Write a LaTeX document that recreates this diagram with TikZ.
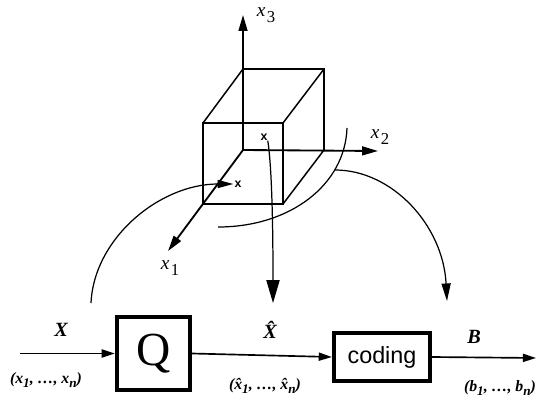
\documentclass[tikz,border=0pt]{standalone}
\usepackage{fontspec}
\setmainfont{Liberation Serif}
\setsansfont{Liberation Sans}
\usetikzlibrary{arrows.meta}
\newcommand{\subsc}[1]{\raisebox{-0.32em}{\fontsize{9.5}{10}\selectfont\upshape\kern0.08em #1}}
\newcommand{\smsub}[1]{\raisebox{-0.28em}{\fontsize{7.5}{8}\selectfont #1}}
\tikzset{
  ln/.style={line width=0.85pt,black},
  axis/.style={line width=1.05pt,black,-{Triangle[length=9pt,width=5pt]}},
  curve/.style={line width=0.7pt,black},
  flow/.style={line width=0.95pt,black,-{Triangle[length=7.5pt,width=4.6pt]}},
  block/.style={draw,line width=2.4pt,inner sep=0pt},
  lab/.style={inner sep=0pt,font=\fontsize{9}{10}\selectfont\itshape\bfseries},
  sym/.style={inner sep=0pt,font=\fontsize{11.5}{12}\selectfont\itshape\bfseries},
  axl/.style={inner sep=0pt,font=\fontsize{11}{12}\selectfont\itshape},
  mk/.style={inner sep=0pt,font=\sffamily\bfseries\fontsize{7}{7}\selectfont}
}
\begin{document}
\begin{tikzpicture}[x=0.02cm,y=-0.02cm]
\useasboundingbox (0,0) rectangle (536,398);
% axes
\coordinate (o) at (243,150);
\coordinate (a3) at (243,15);
\coordinate (a2) at (378,151);
\coordinate (a1) at (168,251);
\draw[axis] (o) -- (a3);
\draw[axis] (o) -- (a2);
\draw[axis] (o) -- (a1);
% cube
\coordinate (btl) at (243,69);
\coordinate (btr) at (324,69);
\coordinate (bbr) at (324,150);
\coordinate (ftl) at (203,123);
\coordinate (ftr) at (283,123);
\coordinate (fbr) at (283,204);
\coordinate (fbl) at (203,204);
\draw[ln] (btl) -- (btr) -- (bbr);
\draw[ln] (ftl) -- (ftr) -- (fbr) -- (fbl) -- cycle;
\draw[ln] (ftl) -- (btl);
\draw[ln] (ftr) -- (btr);
\draw[ln] (fbr) -- (bbr);
% axis labels
\node[axl] (l3) at (266,15) {x\subsc{3}};
\node[axl] (l2) at (380,137) {x\subsc{2}};
\node[axl] (l1) at (170,268) {x\subsc{1}};
% marks
\node[mk] (p1) at (238,184) {x};
\node[mk] (p2) at (264,137) {x};
% blocks
\node[block,minimum width=1.46cm,minimum height=1.46cm,font=\fontsize{27}{27}\selectfont] (Q) at (153.5,353.5) {\raisebox{0.14em}{Q}};
\node[block,minimum width=1.92cm,minimum height=0.96cm,font=\sffamily\fontsize{13.3}{15}\selectfont] (C) at (382,357) {\raisebox{0.14em}{coding}};
\coordinate (in) at (20,353.5);
\coordinate (out) at (536,358);
\draw[flow] (in) -- (Q.west);
\draw[flow] (Q.east) -- (C.west);
\draw[flow] (C.east) -- (out);
% curves
\coordinate (c1s) at (91,303);
\draw[curve,shorten >=0.5pt,-{Triangle[length=9pt,width=4.6pt]}] (c1s) .. controls (94,238) and (160,184) .. (p1.west);
\coordinate (c2e) at (273,303);
\draw[curve,-{Triangle[length=13pt,width=7.5pt]}] (p2.south east) .. controls (270,155) and (273,190) .. (c2e);
\coordinate (c3s) at (347,128);
\coordinate (c3e) at (218,227);
\draw[curve] (c3s) .. controls (345,185) and (290,227) .. (c3e);
\coordinate (c4s) at (335,170);
\coordinate (c4e) at (447,301);
\draw[curve,-{Triangle[length=10pt,width=5.2pt]}] (c4s) .. controls (392,170) and (443,225) .. (c4e);
% texts
\node[sym] (tX) at (61,330) {X};
\node[sym] (tH) at (270,330) {\^X};
\node[sym] (tB) at (474,337) {B};
\node[lab] (tx) at (46,380) {(x\smsub{1}, …, x\smsub{n})};
\node[lab] (th) at (265,386) {(\^x\smsub{1}, …, \^x\smsub{n})};
\node[lab] (tb) at (500,388) {(b\smsub{1}, …, b\smsub{n})};
\end{tikzpicture}
\end{document}
